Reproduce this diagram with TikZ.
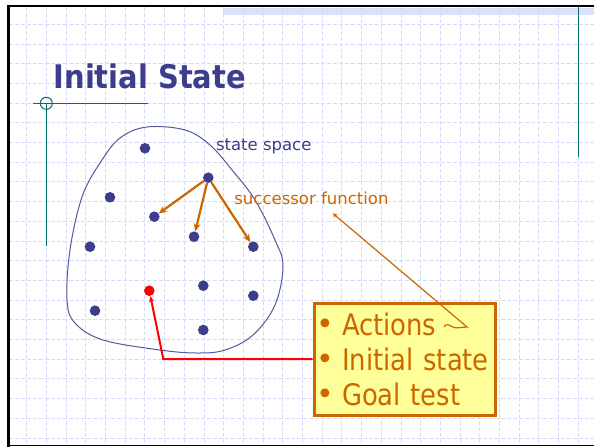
\documentclass[tikz,border=0pt]{standalone}
\usepackage{fontspec}
\setmainfont{DejaVu Sans}
\newfontfamily\titlefont[FakeStretch=0.89]{DejaVu Sans}
\newfontfamily\boxfont[FakeStretch=0.87]{DejaVu Sans}
\usetikzlibrary{arrows.meta, positioning, calc}
\definecolor{slateblue}{RGB}{60,62,140}
\definecolor{blobblue}{RGB}{85,88,155}
\definecolor{fnorange}{RGB}{204,102,0}
\definecolor{boxyellow}{RGB}{255,255,153}
\definecolor{slideteal}{RGB}{0,110,110}
\definecolor{gridblue}{RGB}{212,220,250}
\definecolor{bandblue}{RGB}{218,225,250}
\newcommand{\listbullet}{\makebox[26pt][l]{\raisebox{1pt}{\fontsize{30}{30}\selectfont\rmfamily •}}}

\begin{document}
\begin{tikzpicture}[x=1pt, y=-1pt, every node/.style={inner sep=0pt}]
  % 定义样式
  \tikzstyle{gridline}=[draw=gridblue, line width=0.9pt, dash pattern=on 4pt off 2pt]
  \tikzstyle{tealline}=[draw=slideteal, line width=1.4pt]
  \tikzstyle{statedot}=[circle, fill=slateblue, minimum size=10.6pt]
  \tikzstyle{initdot}=[circle, fill=red, minimum size=10.6pt]
  \tikzstyle{succarrow}=[line width=2.2pt, draw=fnorange, -{Stealth[length=8pt,width=7pt]}]
  \tikzstyle{notearrow}=[line width=1.2pt, draw=fnorange, -{Stealth[length=5pt,width=4.5pt]}]
  \tikzstyle{initarrow}=[line width=2pt, draw=red, -{Stealth[length=6pt,width=5pt]}]
  \tikzstyle{listbox}=[rectangle, draw=fnorange, line width=3pt, fill=boxyellow, minimum width=181pt, minimum height=112pt, text width=177pt, inner xsep=2pt, align=left, text=fnorange, font=\boxfont\fontsize{29.7}{35}\selectfont]

  % 背景与网格
  \useasboundingbox (0,0) rectangle (594,447);
  \fill[white] (0,0) rectangle (594,447);
  \fill[bandblue] (223,7.5) rectangle (594,15);
  \foreach \gx in {0,...,28}
    \draw[gridline] ({26.7+19.7*\gx},7) -- ++(0,438);
  \foreach \gy in {0,...,21}
    \draw[gridline] (9,{24.3+19.7*\gy}) -- ++(585,0);
  \draw[line width=3pt] (8,5) -- (8,447);
  \draw[line width=2pt] (7,6) -- (594,6);
  \draw[line width=1.5pt] (7,445.7) -- (594,445.7);

  % 装饰线
  \draw[tealline] (33.3,103.3) -- (148.3,103.3);
  \draw[tealline] (46.3,103.3) -- (46.3,245.7);
  \draw[draw=slideteal, line width=1pt] (46.3,103.3) circle[radius=6pt];
  \draw[tealline] (578.3,7) -- (578.3,157);

  % 标题
  \node (title) [anchor=base west, text=slateblue, font=\titlefont\bfseries\fontsize{32.5}{32}\selectfont] at (53.5,88.3) {Initial State};

  % 状态空间
  \draw[blobblue, line width=1pt] plot[smooth cycle, tension=0.6] coordinates {(147,127) (185,130) (210,145) (232,170) (255,200) (275,240) (283,266) (275,305) (253,335) (225,350) (197,353) (160,350) (103,340) (75,323) (67,300) (70,250) (82,197) (100,163) (120,138)};
  \node (spacelabel) [anchor=base west, text=slateblue, font=\fontsize{16.5}{18}\selectfont] at (215.8,150.7) {state space};
  \node (fnlabel) [anchor=base west, text=fnorange, font=\fontsize{16.5}{18}\selectfont] at (234.2,204.7) {successor function};

  % 状态点
  \node (s1) [statedot] at (145,148.3) {};
  \node (hub) [statedot] at (208.3,177.7) {};
  \node (s2) [statedot] at (110,197.3) {};
  \node (s3) [statedot] at (154.3,216.7) {};
  \node (s4) [statedot] at (194,236.7) {};
  \node (s5) [statedot] at (253.3,246.7) {};
  \node (s6) [statedot] at (90,246.7) {};
  \node (s7) [statedot] at (203.3,285.7) {};
  \node (s8) [statedot] at (253.3,295.7) {};
  \node (s9) [statedot] at (95,310.7) {};
  \node (s10) [statedot] at (203.3,330) {};
  \node (init) [initdot] at (149.3,290.7) {};

  % 列表框
  \node (box) [listbox] at (404.5,359) {\listbullet Actions\\ \listbullet Initial state\\ \listbullet Goal test};

  % 箭头
  \draw[succarrow] (hub) -- (s3);
  \draw[succarrow] (hub) -- (s4);
  \draw[succarrow] (hub) -- (s5);
  \coordinate (fnpoint) at (332.7,213.3);
  \coordinate (tail) at (444,327);
  \coordinate (tailend) at (467,327);
  \draw[notearrow] (tail) .. controls (446,323) and (449,325) .. (453,327) .. controls (457,329) and (461,327) .. (tailend) -- (fnpoint);
  \coordinate (redbend) at (163.3,359);
  \draw[initarrow] (box.west) -- (redbend) -- (init);
\end{tikzpicture}
\end{document}
